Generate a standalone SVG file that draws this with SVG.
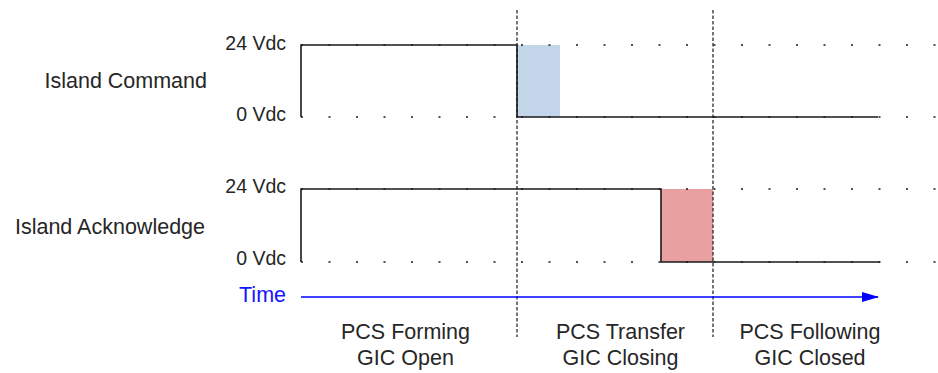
<svg xmlns="http://www.w3.org/2000/svg" width="938" height="373" viewBox="0 0 938 373">
<style>
text{font-family:"Liberation Sans",Arial,sans-serif;fill:#262626}
.lbl{font-size:21.5px;text-anchor:end}
.v{font-size:19.5px;text-anchor:end}
.ph{font-size:21.5px;text-anchor:middle}
.sig{fill:none;stroke:#1a1a1a;stroke-width:1.6}
.grid{stroke:#1a1a1a;stroke-width:1.6;stroke-dasharray:2 25.5}
.div{stroke:#1a1a1a;stroke-width:1.2;stroke-dasharray:3.5 2}
</style>
<defs>
<marker id="ah" markerWidth="17" markerHeight="10" refX="16" refY="5" orient="auto" markerUnits="userSpaceOnUse">
<path d="M0,0 L17,5 L0,10 Z" fill="#0000ff"/>
</marker>
</defs>
<g id="shading">
<rect x="517" y="45" width="43" height="72" fill="#c2d5e9"/>
<rect x="661" y="189" width="52" height="73" fill="#e8a0a0"/>
</g>
<g id="grid">
<line class="grid" x1="301" y1="45" x2="937" y2="45"/>
<line class="grid" x1="301" y1="117" x2="937" y2="117"/>
<line class="grid" x1="301" y1="189" x2="937" y2="189"/>
<line class="grid" x1="301" y1="262" x2="937" y2="262"/>
</g>
<g id="island-command">
<path class="sig" d="M301,117 L301,45 L517,45 L517,117 L878,117"/>
<text class="lbl" x="207" y="88">Island Command</text>
<text class="v" x="286" y="50">24 Vdc</text>
<text class="v" x="286" y="121">0 Vdc</text>
</g>
<g id="island-acknowledge">
<path class="sig" d="M301,262 L301,189 L661,189 L661,262 L880,262"/>
<text class="lbl" x="205" y="234">Island Acknowledge</text>
<text class="v" x="286" y="193">24 Vdc</text>
<text class="v" x="286" y="265">0 Vdc</text>
</g>
<g id="connectors">
<line class="div" x1="517" y1="10" x2="517" y2="337"/>
<line class="div" x1="713" y1="10" x2="713" y2="337"/>
<line x1="301" y1="297" x2="878" y2="297" stroke="#0000ff" stroke-width="1.4" marker-end="url(#ah)"/>
</g>
<g id="time">
<text class="lbl" x="286" y="302" style="fill:#1414ff">Time</text>
</g>
<g id="phases">
<text class="ph" x="405.5" y="339">PCS Forming</text>
<text class="ph" x="405.5" y="365">GIC Open</text>
<text class="ph" x="620.5" y="339">PCS Transfer</text>
<text class="ph" x="620.5" y="365">GIC Closing</text>
<text class="ph" x="810" y="339">PCS Following</text>
<text class="ph" x="810" y="365">GIC Closed</text>
</g>
</svg>
